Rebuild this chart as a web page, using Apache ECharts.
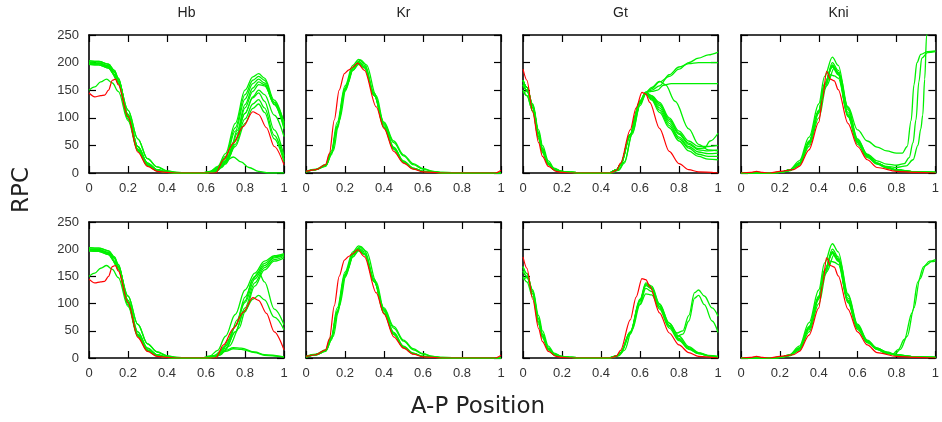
<!DOCTYPE html>
<html><head><meta charset="utf-8">
<script src="https://cdn.jsdelivr.net/npm/echarts@6/dist/echarts.min.js"></script>
<style>html,body{margin:0;padding:0;background:#fff}#c{width:942px;height:422px}</style>
</head><body><div id="c"></div><script>
// ---------- tick labels / titles ----------
const panelTitles = ['Hb', 'Kr', 'Gt', 'Kni'];
const xAxisName = 'A-P Position';
const yAxisName = 'RPC';

// ---------- Hb ----------
const hbL1 = [[0,203],[0.05,202],[0.1,197],[0.13,186],[0.15,172],[0.2,102],[0.25,42],[0.3,14],[0.35,4],[0.4,1],[0.45,0]];
const hbL2 = [[0,200],[0.05,199],[0.1,194],[0.13,183],[0.15,169],[0.2,106],[0.25,48],[0.3,18],[0.35,6],[0.4,2],[0.45,0]];
const hbL3 = [[0,197],[0.05,196],[0.1,190],[0.13,178],[0.15,163],[0.2,98],[0.25,43],[0.3,15],[0.35,5],[0.4,1],[0.45,0]];
const hbL4 = [[0,199],[0.05,198],[0.1,192],[0.15,166],[0.2,114],[0.25,62],[0.3,26],[0.35,11],[0.4,4],[0.45,1],[0.5,0]];
const hbL5 = [[0,150],[0.03,156],[0.06,165],[0.09,170],[0.12,163],[0.15,148],[0.2,95],[0.25,40],[0.3,13],[0.35,4],[0.4,1],[0.45,0]];

const hbTR1 = [[0.58,0],[0.62,3],[0.66,12],[0.7,35],[0.75,90],[0.8,150],[0.84,174],[0.87,180],[0.9,172],[0.95,132],[1,90]];
const hbTR2 = [[0.58,0],[0.62,2],[0.66,10],[0.7,30],[0.75,82],[0.8,142],[0.84,168],[0.87,175],[0.9,168],[0.95,128],[1,86]];
const hbTR3 = [[0.58,0],[0.62,2],[0.66,9],[0.7,27],[0.75,76],[0.8,134],[0.84,162],[0.87,170],[0.9,163],[0.95,124],[1,83]];
const hbTR4 = [[0.6,0],[0.64,3],[0.68,12],[0.72,33],[0.76,77],[0.8,124],[0.84,154],[0.87,165],[0.9,160],[0.95,125],[1,80]];
const hbTR5 = [[0.6,0],[0.64,2],[0.68,10],[0.72,30],[0.76,72],[0.8,118],[0.84,148],[0.87,160],[0.9,158],[0.95,128],[1,92]];
const hbTR6 = [[0.6,0],[0.65,4],[0.7,20],[0.75,58],[0.8,108],[0.84,138],[0.87,150],[0.9,142],[0.95,105],[1,66]];
const hbTR7 = [[0.6,0],[0.65,4],[0.7,22],[0.75,60],[0.8,108],[0.84,136],[0.87,145],[0.9,130],[0.95,78],[1,30]];
const hbTR8 = [[0.6,0],[0.65,3],[0.7,18],[0.75,52],[0.8,98],[0.84,125],[0.87,133],[0.9,118],[0.95,68],[1,24]];
const hbTR9 = [[0.6,0],[0.65,3],[0.7,16],[0.75,48],[0.8,90],[0.84,117],[0.87,125],[0.9,110],[0.95,62],[1,20]];
const hbTR10 = [[0.6,0],[0.65,6],[0.7,22],[0.74,29],[0.78,20],[0.82,10],[0.87,3],[0.92,0],[1,0]];

const hbBR1 = [[0.58,0],[0.62,4],[0.66,14],[0.7,40],[0.75,80],[0.8,125],[0.85,156],[0.9,178],[0.95,188],[1,192]];
const hbBR2 = [[0.6,0],[0.64,4],[0.68,14],[0.72,35],[0.76,70],[0.8,112],[0.85,150],[0.9,174],[0.95,186],[1,190]];
const hbBR3 = [[0.6,0],[0.65,5],[0.7,22],[0.75,58],[0.8,102],[0.85,145],[0.9,170],[0.95,184],[1,189]];
const hbBR4 = [[0.62,0],[0.66,4],[0.7,15],[0.75,48],[0.8,92],[0.85,138],[0.9,166],[0.95,181],[1,187]];
const hbBR5 = [[0.62,0],[0.67,5],[0.72,22],[0.77,55],[0.8,85],[0.85,132],[0.9,162],[0.95,178],[1,184]];
const hbBR6 = [[0.6,0],[0.65,5],[0.7,22],[0.75,58],[0.8,105],[0.84,145],[0.87,158],[0.9,140],[0.95,90],[1,61]];
const hbBR7 = [[0.6,0],[0.65,4],[0.7,18],[0.75,48],[0.8,88],[0.84,108],[0.87,115],[0.9,107],[0.95,75],[1,52]];
const hbBR8 = [[0.6,0],[0.65,5],[0.7,14],[0.74,19],[0.78,18],[0.85,11],[0.9,6],[1,2]];
const hbBR9 = [[0.6,0],[0.65,4],[0.7,12],[0.74,17],[0.78,16],[0.85,10],[0.9,5],[1,2]];

const hbRed = [[0,145],[0.03,138],[0.06,140],[0.08,141],[0.1,150],[0.12,168],[0.135,170],[0.15,160],[0.2,102],[0.25,38],[0.3,12],[0.35,3],[0.4,1],[0.45,0],[0.65,0],[0.69,24],[0.74,54],[0.79,84],[0.84,111],[0.87,106],[0.91,82],[0.95,48],[1,15]];

// ---------- Kr ----------
const krG1 = [[0,3],[0.05,7],[0.1,15],[0.13,40],[0.16,92],[0.2,158],[0.24,195],[0.27,206],[0.3,198],[0.35,145],[0.4,86],[0.45,46],[0.5,21],[0.55,9],[0.6,3],[0.7,0],[1,0]];
const krG2 = [[0,2],[0.05,6],[0.1,13],[0.13,36],[0.16,85],[0.2,152],[0.24,190],[0.27,202],[0.3,195],[0.35,142],[0.4,83],[0.45,44],[0.5,20],[0.55,8],[0.6,3],[0.7,0],[1,0]];
const krG3 = [[0,2],[0.05,6],[0.1,12],[0.13,33],[0.16,80],[0.2,148],[0.24,186],[0.27,199],[0.3,192],[0.35,140],[0.4,82],[0.45,43],[0.5,19],[0.55,8],[0.6,3],[0.7,0],[1,0]];
const krG4 = [[0,2],[0.05,6],[0.1,13],[0.14,40],[0.17,95],[0.21,160],[0.25,196],[0.28,205],[0.31,196],[0.36,140],[0.4,88],[0.45,47],[0.5,22],[0.55,9],[0.6,3],[0.7,0],[1,0]];
const krG5 = [[0,2],[0.05,6],[0.1,13],[0.13,36],[0.16,86],[0.2,154],[0.24,190],[0.27,200],[0.3,192],[0.35,140],[0.4,90],[0.45,55],[0.5,31],[0.55,15],[0.6,7],[0.65,3],[0.7,1],[0.8,0],[1,0]];
const krG6 = [[0,2],[0.05,6],[0.1,13],[0.13,35],[0.16,84],[0.2,150],[0.24,186],[0.27,197],[0.3,190],[0.35,140],[0.4,92],[0.45,58],[0.5,33],[0.55,17],[0.6,8],[0.65,3],[0.7,1],[0.8,0],[1,0]];
const krRed = [[0,3],[0.05,6],[0.1,15],[0.12,35],[0.145,96],[0.17,150],[0.197,180],[0.22,187],[0.24,192],[0.265,199],[0.3,186],[0.36,120],[0.4,81],[0.45,39],[0.5,18],[0.55,7],[0.6,2],[0.7,0],[0.97,0],[1,5]];

// ---------- Gt ----------
const gtL1 = [[0,168],[0.02,155],[0.05,122],[0.08,72],[0.1,44],[0.13,18],[0.16,7],[0.2,3],[0.25,1],[0.3,0]];
const gtL2 = [[0,160],[0.02,150],[0.05,118],[0.08,66],[0.1,40],[0.13,16],[0.16,6],[0.2,2],[0.25,1],[0.3,0]];
const gtL3 = [[0,150],[0.02,140],[0.05,112],[0.08,62],[0.1,37],[0.13,15],[0.16,6],[0.2,2],[0.25,1],[0.3,0]];
const gtL4 = [[0,145],[0.02,148],[0.05,125],[0.08,78],[0.1,50],[0.13,22],[0.16,9],[0.2,3],[0.25,1],[0.3,0]];

const gtTR1 = [[0.44,0],[0.48,6],[0.5,16],[0.55,70],[0.58,108],[0.6,130],[0.63,146],[0.66,140],[0.7,128],[0.75,100],[0.8,76],[0.85,58],[0.9,48],[0.95,48],[1,50]];
const gtTR2 = [[0.44,0],[0.48,5],[0.5,14],[0.55,66],[0.58,104],[0.6,127],[0.63,145],[0.66,137],[0.7,122],[0.75,94],[0.8,70],[0.85,52],[0.9,42],[0.95,40],[1,42]];
const gtTR3 = [[0.44,0],[0.48,5],[0.5,15],[0.55,68],[0.58,106],[0.6,128],[0.63,145],[0.66,135],[0.7,118],[0.75,90],[0.8,65],[0.85,48],[0.9,38],[0.95,35],[1,36]];
const gtTR4 = [[0.45,0],[0.49,6],[0.52,20],[0.56,72],[0.6,125],[0.63,144],[0.66,134],[0.7,114],[0.75,86],[0.8,62],[0.85,45],[0.9,34],[0.95,30],[1,30]];
const gtTR5 = [[0.45,0],[0.49,5],[0.52,18],[0.56,70],[0.6,122],[0.63,143],[0.66,132],[0.7,110],[0.75,82],[0.8,58],[0.85,40],[0.9,30],[0.95,25],[1,24]];
const gtTR6 = [[0.44,0],[0.48,6],[0.5,16],[0.55,70],[0.6,130],[0.63,146],[0.66,139],[0.7,125],[0.75,97],[0.8,72],[0.85,54],[0.9,44],[0.93,45],[0.96,58],[1,72]];
const gtTR7 = [[0.44,0],[0.48,6],[0.5,16],[0.55,70],[0.6,130],[0.63,146],[0.66,153],[0.7,165],[0.75,175],[0.8,188],[0.85,200],[0.9,208],[0.95,214],[1,219]];
const gtTR8 = [[0.44,0],[0.48,6],[0.5,16],[0.55,70],[0.6,130],[0.63,146],[0.66,150],[0.7,158],[0.75,178],[0.8,192],[0.85,198],[0.9,200],[0.95,200],[1,200]];
const gtTR9 = [[0.44,0],[0.48,6],[0.5,16],[0.55,70],[0.6,130],[0.63,146],[0.66,148],[0.69,150],[0.72,159],[0.76,162],[0.85,162],[1,162]];
const gtTR10 = [[0.44,0],[0.48,6],[0.5,16],[0.55,70],[0.6,130],[0.63,146],[0.66,155],[0.7,166],[0.73,160],[0.78,130],[0.85,80],[0.9,52],[0.95,42],[1,40]];
const gtTopRed = [[0,188],[0.02,168],[0.05,110],[0.08,55],[0.1,30],[0.13,12],[0.17,3],[0.2,1],[0.25,0],[0.45,0],[0.48,5],[0.5,18],[0.55,78],[0.58,118],[0.61,146],[0.63,143],[0.65,128],[0.7,81],[0.75,39],[0.8,17],[0.85,6],[0.9,2],[1,0]];

const gtBR1 = [[0.44,0],[0.48,4],[0.5,10],[0.55,48],[0.6,108],[0.63,138],[0.66,132],[0.7,100],[0.75,64],[0.8,40],[0.85,21],[0.9,10],[0.95,5],[1,3]];
const gtBR2 = [[0.44,0],[0.48,4],[0.5,9],[0.55,46],[0.6,105],[0.63,133],[0.66,127],[0.7,95],[0.75,60],[0.8,36],[0.85,19],[0.9,9],[0.95,4],[1,3]];
const gtBR3 = [[0.44,0],[0.48,3],[0.5,8],[0.55,44],[0.6,100],[0.63,128],[0.66,122],[0.7,90],[0.75,55],[0.8,32],[0.85,16],[0.9,8],[0.95,4],[1,2]];
const gtBR4 = [[0.45,0],[0.49,4],[0.52,14],[0.56,52],[0.6,98],[0.63,118],[0.66,116],[0.7,92],[0.75,58],[0.8,34],[0.85,17],[0.9,8],[0.95,4],[1,2]];
const gtBR5 = [[0.44,0],[0.48,4],[0.5,10],[0.55,48],[0.6,106],[0.63,136],[0.66,130],[0.7,98],[0.75,64],[0.79,46],[0.82,50],[0.85,78],[0.88,120],[0.9,125],[0.93,114],[0.97,92],[1,77]];
const gtBR6 = [[0.44,0],[0.48,4],[0.5,10],[0.55,47],[0.6,104],[0.63,134],[0.66,128],[0.7,95],[0.75,60],[0.79,40],[0.82,44],[0.85,68],[0.88,110],[0.9,115],[0.93,98],[0.97,68],[1,47]];
const gtBottomRed = [[0,186],[0.02,165],[0.05,108],[0.08,54],[0.1,30],[0.13,12],[0.17,3],[0.2,1],[0.25,0],[0.45,0],[0.48,4],[0.5,14],[0.55,70],[0.58,112],[0.61,146],[0.63,144],[0.65,132],[0.7,83],[0.75,46],[0.8,24],[0.85,10],[0.9,3],[1,0]];

// ---------- Kni ----------
const kniM1 = [[0,0],[0.15,0],[0.2,1],[0.25,5],[0.3,18],[0.35,56],[0.4,112],[0.43,160],[0.47,196],[0.5,180],[0.55,104],[0.6,55],[0.65,30],[0.7,18],[0.75,11],[0.8,6],[0.9,2],[1,1]];
const kniM2 = [[0,0],[0.15,0],[0.2,1],[0.25,6],[0.3,22],[0.35,65],[0.4,125],[0.43,175],[0.47,210],[0.5,195],[0.55,115],[0.6,60],[0.65,32],[0.7,18],[0.75,10],[0.8,6],[0.9,2],[1,1]];
const kniM3 = [[0,0],[0.15,0],[0.2,1],[0.25,5],[0.3,16],[0.35,52],[0.4,108],[0.43,155],[0.47,200],[0.5,186],[0.55,110],[0.6,58],[0.65,31],[0.7,17],[0.75,10],[0.8,5],[0.9,2],[1,1]];
const kniM4 = [[0,0],[0.15,0],[0.2,1],[0.25,4],[0.3,14],[0.35,48],[0.4,100],[0.44,158],[0.48,190],[0.51,176],[0.55,118],[0.6,62],[0.65,33],[0.7,18],[0.75,10],[0.8,5],[0.9,2],[1,1]];
const kniM5 = [[0,0],[0.15,0],[0.2,1],[0.25,5],[0.3,17],[0.35,54],[0.4,110],[0.43,152],[0.46,178],[0.48,176],[0.5,172],[0.55,106],[0.6,56],[0.65,30],[0.7,17],[0.75,10],[0.8,5],[0.9,2],[1,1]];
const kniM6 = [[0,0],[0.15,0],[0.2,1],[0.25,5],[0.3,18],[0.35,58],[0.4,114],[0.43,162],[0.47,192],[0.5,178],[0.55,102],[0.6,52],[0.65,28],[0.7,16],[0.75,9],[0.8,5],[0.9,2],[1,1]];
const kniHead = [[0,0],[0.15,0],[0.2,1],[0.25,5],[0.3,18],[0.35,56],[0.4,112],[0.43,160],[0.47,194],[0.5,182]];
const kniTopTailA = [[0.55,120],[0.6,78],[0.65,58],[0.7,47],[0.75,40],[0.8,36],[0.83,36],[0.855,48],[0.875,95],[0.89,160],[0.905,200],[0.925,215],[0.96,220],[1,221]];
const kniTopTailB = [[0.55,105],[0.6,58],[0.65,34],[0.7,22],[0.75,16],[0.8,14],[0.84,17],[0.865,28],[0.885,55],[0.9,96],[0.915,165],[0.93,208],[0.96,218],[1,220]];
const kniTopTailC = [[0.55,104],[0.6,55],[0.65,30],[0.7,18],[0.75,12],[0.8,10],[0.85,13],[0.885,24],[0.91,50],[0.925,80],[0.935,105],[0.945,170],[0.955,250],[0.97,300]];
const kniBotTailA = [[0.55,104],[0.6,55],[0.65,30],[0.7,16],[0.75,8],[0.78,7],[0.81,16],[0.84,34],[0.88,83],[0.91,140],[0.94,168],[0.97,178],[1,181]];
const kniBotTailB = [[0.55,106],[0.6,57],[0.65,31],[0.7,16],[0.75,8],[0.79,7],[0.82,16],[0.855,40],[0.89,92],[0.92,145],[0.95,170],[0.98,177],[1,178]];
const kniRed = [[0,0],[0.05,1],[0.08,3],[0.11,1],[0.15,0],[0.2,3],[0.27,6],[0.3,12],[0.35,42],[0.4,92],[0.42,135],[0.44,184],[0.46,170],[0.48,167],[0.5,151],[0.55,90],[0.6,48],[0.65,24],[0.7,10],[0.8,3],[0.9,1],[1,0]];

// ---------- panel assembly ----------
const panels = [
  {row:0, col:0, red:hbRed, greens:[[...hbL1,...hbTR1],[...hbL2,...hbTR2],[...hbL3,...hbTR3],[...hbL1,...hbTR4],[...hbL2,...hbTR5],[...hbL4,...hbTR6],[...hbL3,...hbTR7],[...hbL5,...hbTR8],[...hbL4,...hbTR9],[...hbL2,...hbTR10]]},
  {row:0, col:1, red:krRed, greens:[krG1,krG2,krG3,krG4,krG5,krG6]},
  {row:0, col:2, red:gtTopRed, greens:[[...gtL1,...gtTR1],[...gtL2,...gtTR2],[...gtL3,...gtTR3],[...gtL1,...gtTR4],[...gtL2,...gtTR5],[...gtL4,...gtTR6],[...gtL1,...gtTR7],[...gtL2,...gtTR8],[...gtL3,...gtTR9],[...gtL1,...gtTR10]]},
  {row:0, col:3, red:kniRed, greens:[kniM1,kniM2,kniM3,kniM4,kniM5,kniM6,[...kniHead,...kniTopTailA],[...kniHead,...kniTopTailB],[...kniHead,...kniTopTailC]]},
  {row:1, col:0, red:hbRed, greens:[[...hbL1,...hbBR1],[...hbL2,...hbBR2],[...hbL3,...hbBR3],[...hbL1,...hbBR4],[...hbL2,...hbBR5],[...hbL4,...hbBR6],[...hbL5,...hbBR7],[...hbL3,...hbBR8],[...hbL4,...hbBR9]]},
  {row:1, col:1, red:krRed, greens:[krG1,krG2,krG3,krG4,krG5,krG6]},
  {row:1, col:2, red:gtBottomRed, greens:[[...gtL1,...gtBR1],[...gtL2,...gtBR2],[...gtL3,...gtBR3],[...gtL4,...gtBR4],[...gtL1,...gtBR5],[...gtL2,...gtBR6]]},
  {row:1, col:3, red:kniRed, greens:[kniM1,kniM2,kniM3,kniM4,kniM5,kniM6,[...kniHead,...kniBotTailA],[...kniHead,...kniBotTailB]]}
];

const lefts = [89, 306, 523, 741], W = 195;
const tops = [35, 222], Hs = [138, 136];
const labelFont = {fontFamily:'Liberation Sans', fontSize:13, color:'#333'};

const grid = [], xAxis = [], yAxis = [], series = [];
panels.forEach((p, i) => {
  grid.push({left: lefts[p.col], top: tops[p.row], width: W, height: Hs[p.row], show:false});
  const line = {show:true, onZero:false, lineStyle:{color:'#000', width:1.6}};
  const tick = {show:true, inside:true, length:7, lineStyle:{color:'#000', width:1.2}};
  xAxis.push({gridIndex:i, type:'value', min:0, max:1, interval:0.2, position:'bottom', axisLine:line, axisTick:tick, splitLine:{show:false}, axisLabel:Object.assign({margin:9}, labelFont)});
  xAxis.push({gridIndex:i, type:'value', min:0, max:1, interval:0.2, position:'top', axisLine:line, axisTick:tick, splitLine:{show:false}, axisLabel:{show:false}});
  yAxis.push({gridIndex:i, type:'value', min:0, max:250, interval:50, position:'left', axisLine:line, axisTick:tick, splitLine:{show:false}, axisLabel:Object.assign({show:p.col===0, margin:10}, labelFont)});
  yAxis.push({gridIndex:i, type:'value', min:0, max:250, interval:50, position:'right', axisLine:line, axisTick:tick, splitLine:{show:false}, axisLabel:{show:false}});
  p.greens.forEach(g => series.push({type:'line', xAxisIndex:2*i, yAxisIndex:2*i, data:g, showSymbol:false, smooth:0.35, smoothMonotone:'x', clip:true, lineStyle:{color:'#00f000', width:1.3}, silent:true}));
  series.push({type:'line', xAxisIndex:2*i, yAxisIndex:2*i, data:p.red, showSymbol:false, smooth:0.3, smoothMonotone:'x', clip:true, lineStyle:{color:'#ff0000', width:1.2}, silent:true});
});

const graphic = panelTitles.map((t, c) => ({type:'text', x: lefts[c] + W/2, y: 13, style:{text:t, font:'14px "Liberation Sans"', fill:'#222', textAlign:'center', textVerticalAlign:'middle'}}));
graphic.push({type:'text', x:478, y:407, style:{text:xAxisName, font:'23px "DejaVu Sans"', fill:'#222', textAlign:'center', textVerticalAlign:'middle'}});
graphic.push({type:'text', x:22, y:190, rotation:Math.PI/2, style:{text:yAxisName, font:'23px "DejaVu Sans"', fill:'#222', textAlign:'center', textVerticalAlign:'middle'}});

const chart = echarts.init(document.getElementById('c'), null, {renderer:'canvas'});
chart.setOption({animation:false, backgroundColor:'#fff', grid, xAxis, yAxis, series, graphic});
</script></body></html>
